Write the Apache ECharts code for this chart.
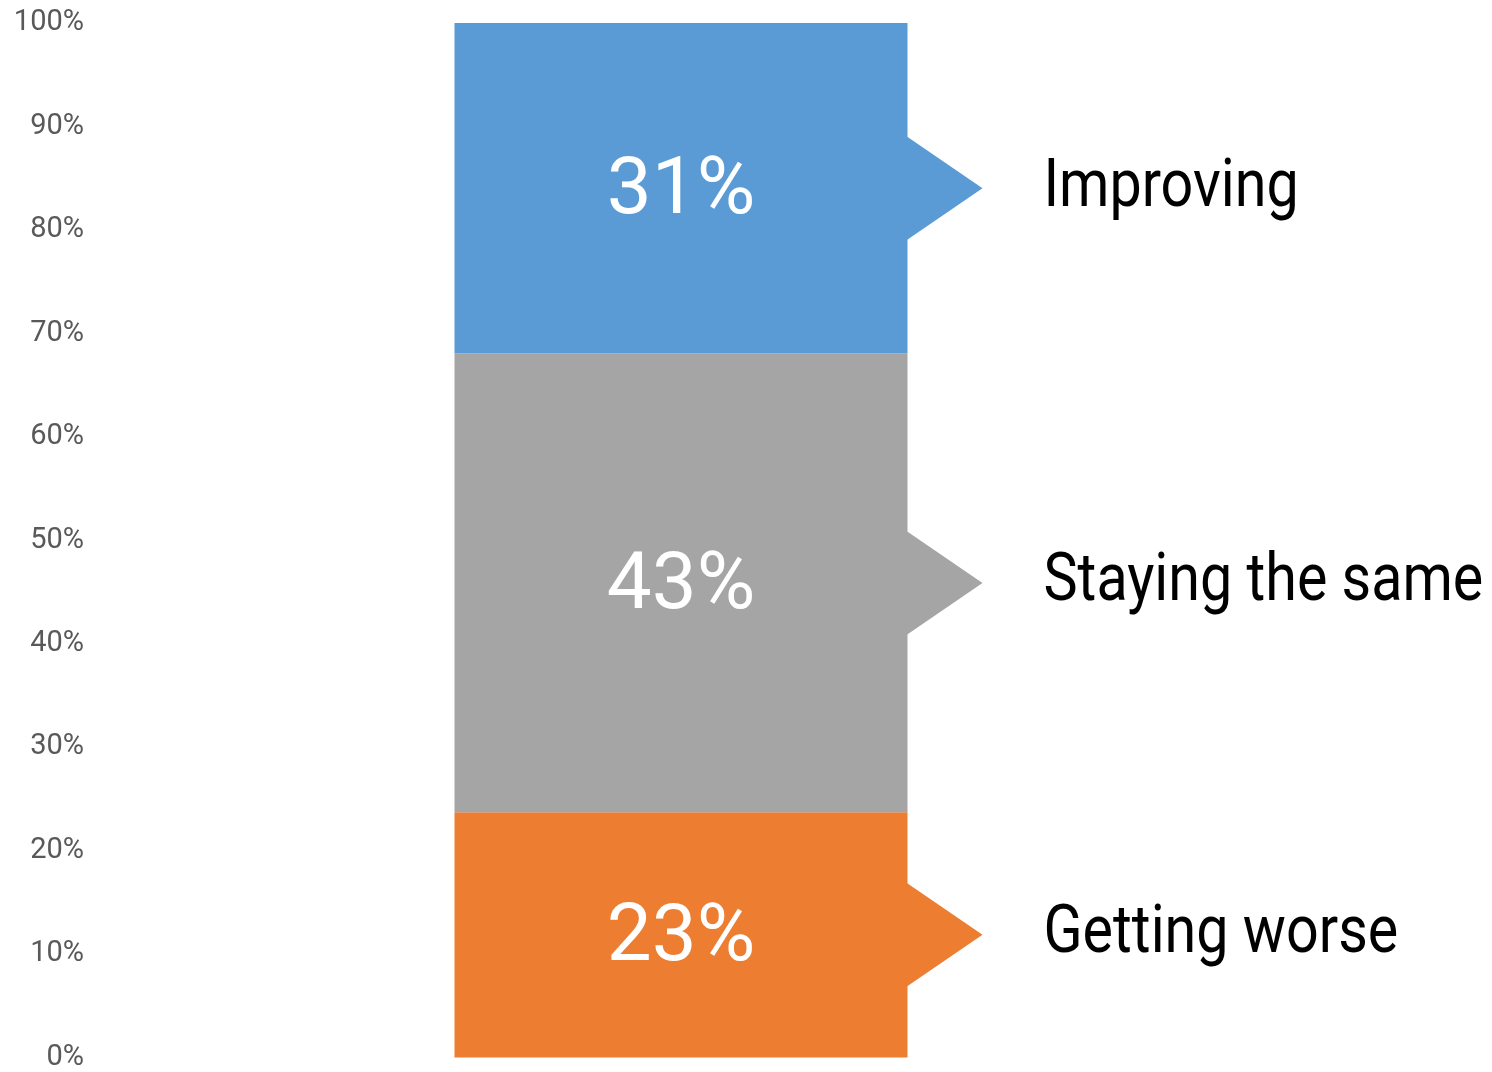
<!DOCTYPE html>
<html>
<head>
<meta charset="utf-8">
<title>Outlook</title>
<script src="https://cdn.jsdelivr.net/npm/echarts@6/dist/echarts.min.js"></script>
<style>
  html, body { margin: 0; padding: 0; background: #fff; }
  #chart { width: 1492px; height: 1072px; }
</style>
</head>
<body>
<div id="chart"></div>
<script>
// Responses, bottom to top of the stack
const categories = ['Getting worse', 'Staying the same', 'Improving'];
const values = [23, 43, 31];
const colors = ['#ED7D31', '#A5A5A5', '#5B9BD5'];
const yTicks = [0, 10, 20, 30, 40, 50, 60, 70, 80, 90, 100];

const total = values.reduce((a, b) => a + b, 0);
const shares = values.map(v => v / total * 100);

// Midpoint of each stacked segment, in axis units
const mids = [];
let acc = 0;
shares.forEach(s => { mids.push(acc + s / 2); acc += s; });

const BAR_W = 453;
const FONT = 'Roboto, "Noto Sans", sans-serif';

const chart = echarts.init(document.getElementById('chart'));

const barSeries = categories.map((name, i) => ({
  name: name,
  type: 'bar',
  stack: 'total',
  barWidth: BAR_W,
  data: [shares[i]],
  itemStyle: { color: colors[i] },
  label: {
    show: true,
    position: 'inside',
    offset: [0, 5],
    formatter: () => values[i] + '%',
    color: '#fff',
    fontFamily: FONT,
    fontSize: 80,
    fontWeight: 400
  },
  emphasis: { disabled: true }
}));

// Pointer triangle and caption on the right of each segment
const pointerSeries = {
  type: 'custom',
  data: mids.map((m, i) => [0, m, i]),
  encode: { x: 0, y: 1 },
  z: 3,
  silent: true,
  renderItem: function (params, api) {
    const idx = api.value(2);
    const p = api.coord([api.value(0), api.value(1)]);
    const edge = p[0] + BAR_W / 2;
    const halfH = 52;
    const len = 75;
    return {
      type: 'group',
      children: [
        {
          type: 'polygon',
          shape: { points: [[edge - 1, p[1] - halfH], [edge + len, p[1]], [edge - 1, p[1] + halfH]] },
          style: { fill: colors[idx] }
        },
        {
          type: 'text',
          x: edge + 136,
          y: p[1] + 1,
          scaleX: 0.87,
          style: {
            x: 0,
            y: 0,
            text: categories[idx],
            fill: '#000',
            font: '400 66px ' + FONT,
            verticalAlign: 'middle',
            align: 'left'
          }
        }
      ]
    };
  }
};

chart.setOption({
  animation: false,
  grid: { left: 92, right: 222, top: 23, bottom: 6, containLabel: false },
  xAxis: {
    type: 'category',
    data: ['Outlook'],
    show: false
  },
  yAxis: {
    type: 'value',
    min: yTicks[0],
    max: yTicks[yTicks.length - 1],
    interval: 10,
    axisLine: { show: false },
    axisTick: { show: false },
    splitLine: { show: false },
    axisLabel: {
      formatter: '{value}%',
      color: '#595959',
      fontFamily: FONT,
      fontSize: 29,
      margin: 8
    }
  },
  series: barSeries.concat([pointerSeries])
});
</script>
</body>
</html>
